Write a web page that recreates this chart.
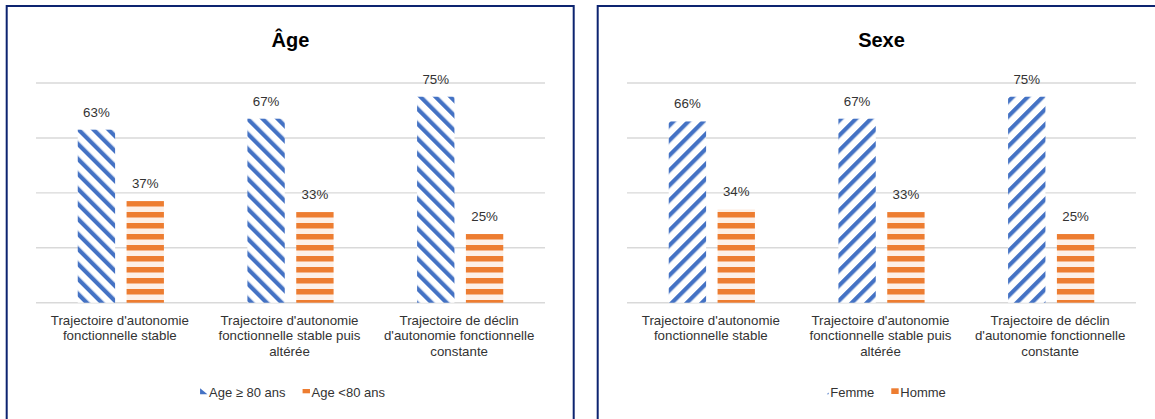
<!DOCTYPE html>
<html>
<head>
<meta charset="utf-8">
<script src="https://cdn.jsdelivr.net/npm/d3@7"></script>
<style>
  body { margin: 0; background: #fff; }
  svg { display: block; font-family: "Liberation Sans", Arial, sans-serif; }
</style>
</head>
<body>
<div id="chart-holder"></div>
<script>
// data
var categories = [
    ["Trajectoire d'autonomie", "fonctionnelle stable"],
    ["Trajectoire d'autonomie", "fonctionnelle stable puis", "altérée"],
    ["Trajectoire de déclin", "d'autonomie fonctionnelle", "constante"]
];

var ageSeries = ["Age ≥ 80 ans", "Age <80 ans"];
var ageOld = [0.63, 0.67, 0.75];
var ageYoung = [0.37, 0.33, 0.25];

var sexeSeries = ["Femme", "Homme"];
var sexeFemme = [0.66, 0.67, 0.75];
var sexeHomme = [0.34, 0.33, 0.25];

var gridTicks = [0, 0.2, 0.4, 0.6, 0.8];

var blue = '#4472C4';
var orange = '#ED7D31';
var textColor = '#333333';

// size globals
var width = 1155;
var height = 419;

var svg = d3
    .select('#chart-holder')
    .append('svg')
    .attr('width', width)
    .attr('height', height);

// patterns
var defs = svg.append('defs');

function diagPattern(id, angle) {
    var p = defs
        .append('pattern')
        .attr('id', id)
        .attr('patternUnits', 'userSpaceOnUse')
        .attr('width', 10.6)
        .attr('height', 10.6)
        .attr('patternTransform', 'rotate(' + angle + ')');
    p.append('rect')
        .attr('width', 10.6)
        .attr('height', 10.6)
        .attr('fill', '#fff');
    p.append('rect')
        .attr('x', 0)
        .attr('width', 4.2)
        .attr('height', 10.6)
        .attr('fill', blue);
}

diagPattern('diagDown', -45);
diagPattern('diagUp', 45);

var hp = defs
    .append('pattern')
    .attr('id', 'horiz')
    .attr('patternUnits', 'userSpaceOnUse')
    .attr('width', 10)
    .attr('height', 11);
hp.append('rect').attr('width', 10).attr('height', 11).attr('fill', '#fdf0e7');
hp.append('rect').attr('y', 3).attr('width', 10).attr('height', 5.5).attr('fill', orange);

function buildPanel(opts) {
    var g = svg.append('g').attr('transform', 'translate(' + opts.left + ',0)');

    // panel border
    g.append('rect')
        .attr('x', 0.7)
        .attr('y', 6)
        .attr('width', 567)
        .attr('height', 440)
        .attr('fill', 'none')
        .attr('stroke', '#0d2470')
        .attr('stroke-width', 2);

    var plotLeft = 30;
    var plotRight = 539;
    var center = (plotLeft + plotRight) / 2;

    var x0 = d3
        .scaleBand()
        .domain(d3.range(categories.length))
        .range([plotLeft, plotRight])
        .padding(0);

    var x1 = d3
        .scaleBand()
        .domain([0, 1])
        .range([0, x0.bandwidth()])
        .paddingInner(0.235)
        .paddingOuter(0.855);

    var y = d3
        .scaleLinear()
        .domain([0, 0.8])
        .range([302.7, 83]);

    // gridlines
    g.selectAll('.grid')
        .data(gridTicks)
        .enter()
        .append('line')
        .attr('class', 'grid')
        .attr('x1', plotLeft)
        .attr('x2', plotRight)
        .attr('y1', function(d) { return y(d); })
        .attr('y2', function(d) { return y(d); })
        .attr('stroke', '#d9d9d9')
        .attr('stroke-width', 1.4);

    // title
    g.append('text')
        .attr('x', center)
        .attr('y', 47)
        .attr('text-anchor', 'middle')
        .style('font-size', '20px')
        .style('font-weight', 'bold')
        .attr('fill', '#000')
        .text(opts.title);

    var rows = [];
    categories.forEach(function(c, i) {
        rows.push({ cat: i, s: 0, v: opts.a[i] });
        rows.push({ cat: i, s: 1, v: opts.b[i] });
    });

    var fills = ['url(#' + opts.pattern + ')', 'url(#horiz)'];

    // bars
    g.selectAll('.bar')
        .data(rows)
        .enter()
        .append('rect')
        .attr('class', 'bar')
        .attr('x', function(d) { return x0(d.cat) + x1(d.s); })
        .attr('y', function(d) { return y(d.v); })
        .attr('width', x1.bandwidth())
        .attr('height', function(d) { return y(0) - y(d.v); })
        .attr('fill', function(d) { return fills[d.s]; });

    // value labels
    g.selectAll('.val')
        .data(rows)
        .enter()
        .append('text')
        .attr('class', 'val')
        .attr('x', function(d) { return x0(d.cat) + x1(d.s) + x1.bandwidth() / 2; })
        .attr('y', function(d) { return y(d.v) - 13; })
        .attr('text-anchor', 'middle')
        .style('font-size', '13.3px')
        .attr('fill', textColor)
        .text(function(d) { return d3.format('.0%')(d.v); });

    // category labels
    var cl = g.selectAll('.cat')
        .data(categories)
        .enter()
        .append('text')
        .attr('class', 'cat')
        .attr('text-anchor', 'middle')
        .style('font-size', '13.3px')
        .attr('fill', textColor);

    cl.selectAll('tspan')
        .data(function(d, i) { return d.map(function(t) { return { t: t, i: i }; }); })
        .enter()
        .append('tspan')
        .attr('x', function(d) { return x0(d.i) + x0.bandwidth() / 2 - 1; })
        .attr('y', function(d, j) { return 324.7 + j * 15.7; })
        .text(function(d) { return d.t; });

    // legend
    var lg = g.append('g');
    var cursor = 0;
    opts.series.forEach(function(name, i) {
        var item = lg.append('g').attr('transform', 'translate(' + cursor + ',0)');
        item.append('rect')
            .attr('x', 0)
            .attr('y', opts.keyY[i])
            .attr('width', 7.4)
            .attr('height', opts.keyH[i])
            .attr('fill', i === 0 ? blue : orange);
        var t = item.append('text')
            .attr('x', 9)
            .attr('y', 396.5)
            .style('font-size', '13px')
            .attr('fill', textColor)
            .text(name);
        cursor += 9 + t.node().getComputedTextLength() + 17;
    });
    var lw = cursor - 17;
    lg.attr('transform', 'translate(' + (center + 2 - lw / 2) + ',0)');

    // triangular look of the patterned key
    if (opts.keyClip) {
        lg.select('rect').attr('fill', 'none');
        lg.select('g').append('path')
            .attr('d', opts.keyClip)
            .attr('fill', blue);
    }
}

buildPanel({
    left: 6,
    title: 'Âge',
    a: ageOld,
    b: ageYoung,
    series: ageSeries,
    pattern: 'diagDown',
    keyY: [388.3, 389],
    keyH: [6, 4.3],
    keyClip: 'M0,388.3L7.4,394.3L0,394.3Z'
});

buildPanel({
    left: 597,
    title: 'Sexe',
    a: sexeFemme,
    b: sexeHomme,
    series: sexeSeries,
    pattern: 'diagUp',
    keyY: [388.3, 388.3],
    keyH: [6, 5.7],
    keyClip: 'M5.6,394.3L7.4,392.5L7.4,394.3Z'
});
</script>
</body>
</html>
